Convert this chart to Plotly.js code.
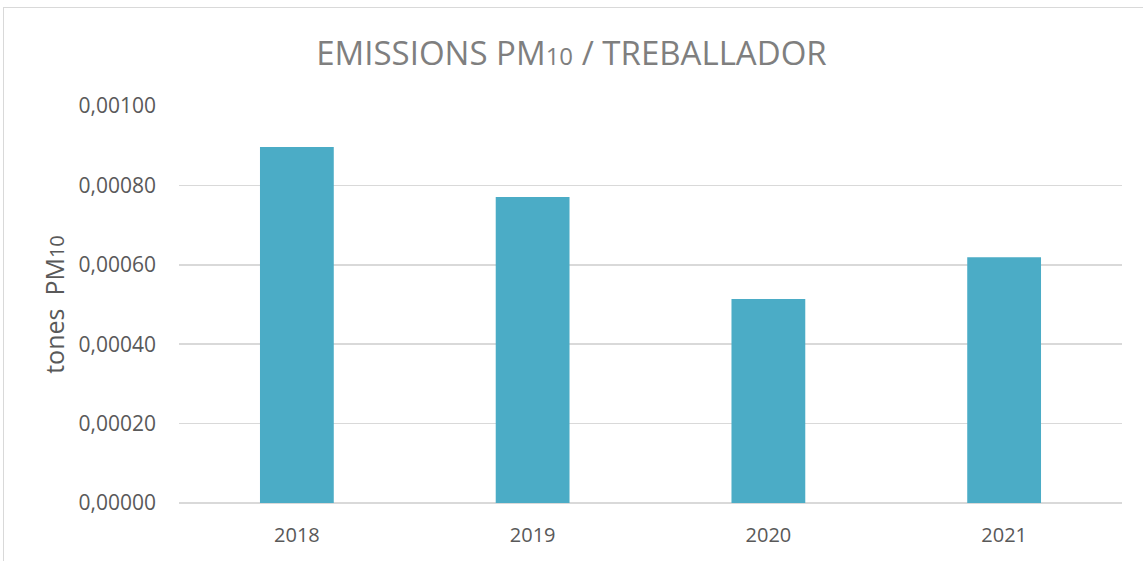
<!DOCTYPE html>
<html>
<head>
<meta charset="utf-8">
<script src="https://cdn.plot.ly/plotly-3.0.1.min.js"></script>
<style>
  html, body { margin:0; padding:0; background:#fff; }
  #chart { width:1143px; height:561px; position:absolute; left:0; top:0; }
  #frame { position:absolute; left:3px; top:7px; width:1160px; height:570px; border:1px solid #d9d9d9; pointer-events:none; }
</style>
</head>
<body>
<div id="chart"></div>
<div id="frame"></div>
<script>
const years = ['2018', '2019', '2020', '2021'];
const emissions = [0.000897, 0.000771, 0.000514, 0.000619];
const yTicks = [0, 0.0002, 0.0004, 0.0006, 0.0008, 0.001];

const trace = {
  type: 'bar',
  x: years,
  y: emissions,
  marker: { color: '#4BACC6' },
  hoverinfo: 'x+y'
};

const layout = {
  width: 1143,
  height: 561,
  separators: ',.',
  paper_bgcolor: 'rgba(0,0,0,0)',
  plot_bgcolor: '#ffffff',
  margin: { l: 179, r: 21, t: 106, b: 58, pad: 0 },
  bargap: 0.687,
  showlegend: false,
  font: { family: 'Open Sans, sans-serif', color: '#595959' },
  title: {
    text: 'EMISSIONS PM<span style="font-size:24px">10</span> / TREBALLADOR',
    font: { family: 'Open Sans, sans-serif', size: 33, color: '#7f7f7f' },
    xref: 'container', x: 0.5, xanchor: 'center',
    yref: 'container', y: 0.905, yanchor: 'middle'
  },
  xaxis: {
    type: 'category',
    showgrid: false,
    zeroline: false,
    showline: false,
    tickfont: { size: 20, color: '#595959' },
    ticks: '',
    ticklabelstandoff: 18
  },
  yaxis: {
    range: [0, 0.001],
    tickvals: yTicks,
    tickformat: '.5f',
    showgrid: true,
    gridcolor: '#d9d9d9',
    gridwidth: 1.5,
    zeroline: true,
    zerolinecolor: '#d9d9d9',
    zerolinewidth: 1.5,
    showline: false,
    ticks: '',
    ticklabelstandoff: 22,
    tickfont: { size: 21, color: '#595959' },
    title: {
      text: 'tones  PM<span style="font-size:20px">10</span>',
      font: { size: 25, color: '#595959' },
      standoff: 6
    }
  }
};

Plotly.newPlot('chart', [trace], layout, { displayModeBar: false, staticPlot: true });
</script>
</body>
</html>
